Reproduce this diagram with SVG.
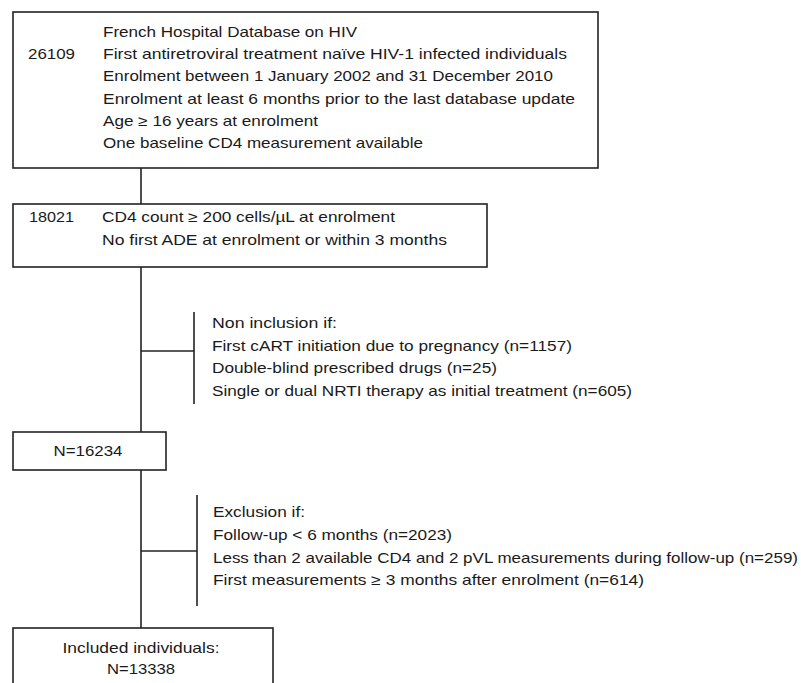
<svg xmlns="http://www.w3.org/2000/svg" width="801" height="683" viewBox="0 0 801 683">
<style>
.box{fill:#fff;stroke:#222;stroke-width:1.6}
.ln{stroke:#222;stroke-width:1.6;fill:none}
text{font-family:"Liberation Sans",Arial,sans-serif;font-size:14.5px;fill:#1a1a1a}
.c{text-anchor:middle}
</style>
<rect width="801" height="683" fill="#fff"/>
<g id="connectors">
<line class="ln" x1="141" y1="168" x2="141" y2="204"/>
<line class="ln" x1="141" y1="267" x2="141" y2="432"/>
<line class="ln" x1="141" y1="470" x2="141" y2="628"/>
<line class="ln" x1="141" y1="351" x2="194" y2="351"/>
<line class="ln" x1="194" y1="312" x2="194" y2="404"/>
<line class="ln" x1="141" y1="551" x2="197" y2="551"/>
<line class="ln" x1="197" y1="495" x2="197" y2="606"/>
</g>
<g id="node-26109">
<rect class="box" x="13" y="12" width="585" height="156"/>
<text x="28" y="59" textLength="47" lengthAdjust="spacingAndGlyphs">26109</text>
<text x="103" y="37" textLength="254" lengthAdjust="spacingAndGlyphs">French Hospital Database on HIV</text>
<text x="103" y="59.2" textLength="464" lengthAdjust="spacingAndGlyphs">First antiretroviral treatment naïve HIV-1 infected individuals</text>
<text x="103" y="81.4" textLength="450" lengthAdjust="spacingAndGlyphs">Enrolment between 1 January 2002 and 31 December 2010</text>
<text x="103" y="103.6" textLength="472" lengthAdjust="spacingAndGlyphs">Enrolment at least 6 months prior to the last database update</text>
<text x="103" y="125.8" textLength="215" lengthAdjust="spacingAndGlyphs">Age ≥ 16 years at enrolment</text>
<text x="103" y="148" textLength="320" lengthAdjust="spacingAndGlyphs">One baseline CD4 measurement available</text>
</g>
<g id="node-18021">
<rect class="box" x="13" y="204" width="474" height="63"/>
<text x="29" y="222" textLength="45" lengthAdjust="spacingAndGlyphs">18021</text>
<text x="102" y="222" textLength="293" lengthAdjust="spacingAndGlyphs">CD4 count ≥ 200 cells/µL at enrolment</text>
<text x="102" y="245" textLength="345" lengthAdjust="spacingAndGlyphs">No first ADE at enrolment or within 3 months</text>
</g>
<g id="node-noninclusion">
<text x="212" y="328" textLength="125" lengthAdjust="spacingAndGlyphs">Non inclusion if:</text>
<text x="212" y="350.5" textLength="360" lengthAdjust="spacingAndGlyphs">First cART initiation due to pregnancy (n=1157)</text>
<text x="212" y="373" textLength="285" lengthAdjust="spacingAndGlyphs">Double-blind prescribed drugs (n=25)</text>
<text x="212" y="395.5" textLength="420" lengthAdjust="spacingAndGlyphs">Single or dual NRTI therapy as initial treatment (n=605)</text>
</g>
<g id="node-16234">
<rect class="box" x="13" y="432" width="153" height="38"/>
<text class="c" x="88" y="456" textLength="69" lengthAdjust="spacingAndGlyphs">N=16234</text>
</g>
<g id="node-exclusion">
<text x="213" y="517" textLength="92" lengthAdjust="spacingAndGlyphs">Exclusion if:</text>
<text x="213" y="540" textLength="239" lengthAdjust="spacingAndGlyphs">Follow-up &lt; 6 months (n=2023)</text>
<text x="213" y="563" textLength="585" lengthAdjust="spacingAndGlyphs">Less than 2 available CD4 and 2 pVL measurements during follow-up (n=259)</text>
<text x="213" y="585" textLength="431" lengthAdjust="spacingAndGlyphs">First measurements ≥ 3 months after enrolment (n=614)</text>
</g>
<g id="node-included">
<rect class="box" x="13" y="628" width="260" height="70"/>
<text class="c" x="141" y="653" textLength="157" lengthAdjust="spacingAndGlyphs">Included individuals:</text>
<text class="c" x="141" y="674" textLength="68" lengthAdjust="spacingAndGlyphs">N=13338</text>
</g>
</svg>
